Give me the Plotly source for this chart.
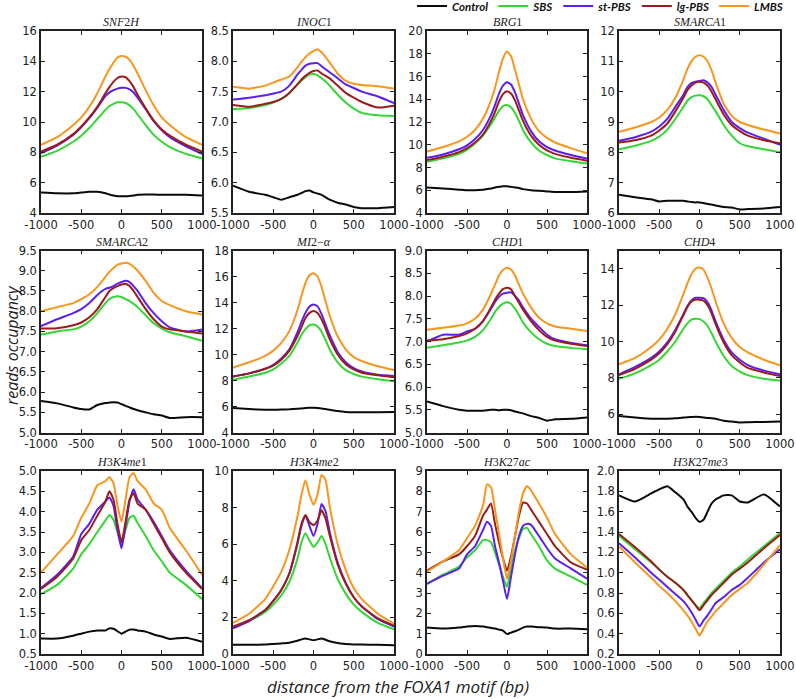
import plotly.graph_objects as go

W, H = 796, 699

# ---------------- data ----------------
X = [-1000, -800, -600, -500, -400, -300, -200, -150, -100, -50, 0, 50, 100, 150, 200, 300, 400, 500, 600, 800, 1000]
X_AC = [-1000, -800, -600, -500, -400, -300, -250, -200, -150, -100, -50, 0, 50, 100, 150, 200, 250, 300, 400, 500, 600, 800, 1000]

SERIES = ["Control", "SBS", "st-PBS", "lg-PBS", "LMBS"]
COLORS = ["#0a0a0a", "#33d633", "#5b1ff0", "#9b1c1c", "#f7961e"]

SNF2H = {
    "Control": [5.35, 5.30, 5.30, 5.35, 5.40, 5.40, 5.30, 5.22, 5.15, 5.10, 5.10, 5.10, 5.12, 5.15, 5.20, 5.22, 5.22, 5.20, 5.20, 5.20, 5.15],
    "SBS": [7.70, 8.10, 8.70, 9.10, 9.60, 10.20, 10.80, 11.05, 11.20, 11.30, 11.30, 11.25, 11.10, 10.85, 10.50, 9.80, 9.15, 8.70, 8.35, 7.90, 7.60],
    "st-PBS": [7.95, 8.45, 9.15, 9.65, 10.25, 10.95, 11.70, 11.95, 12.10, 12.20, 12.25, 12.25, 12.15, 11.95, 11.60, 10.85, 10.05, 9.45, 9.00, 8.40, 7.90],
    "lg-PBS": [8.05, 8.50, 9.20, 9.70, 10.30, 11.00, 11.90, 12.30, 12.65, 12.90, 13.00, 12.95, 12.70, 12.30, 11.80, 10.90, 10.10, 9.50, 9.10, 8.50, 8.05],
    "LMBS": [8.50, 9.00, 9.80, 10.30, 11.00, 11.90, 13.00, 13.50, 13.90, 14.25, 14.35, 14.30, 14.10, 13.70, 13.20, 12.10, 11.10, 10.30, 9.80, 9.00, 8.50],
}
INOC1 = {
    "Control": [5.95, 5.85, 5.80, 5.76, 5.72, 5.76, 5.80, 5.83, 5.86, 5.87, 5.84, 5.82, 5.80, 5.76, 5.72, 5.67, 5.64, 5.60, 5.58, 5.58, 5.60],
    "SBS": [7.21, 7.23, 7.28, 7.32, 7.38, 7.48, 7.62, 7.68, 7.74, 7.78, 7.79, 7.77, 7.72, 7.67, 7.60, 7.45, 7.32, 7.22, 7.15, 7.11, 7.10],
    "st-PBS": [7.37, 7.40, 7.44, 7.47, 7.50, 7.60, 7.78, 7.86, 7.93, 7.96, 7.97, 7.97, 7.92, 7.87, 7.82, 7.72, 7.62, 7.56, 7.50, 7.42, 7.31],
    "lg-PBS": [7.28, 7.25, 7.30, 7.33, 7.38, 7.48, 7.62, 7.70, 7.76, 7.81, 7.84, 7.85, 7.80, 7.76, 7.72, 7.60, 7.48, 7.40, 7.33, 7.24, 7.27],
    "LMBS": [7.58, 7.55, 7.60, 7.65, 7.70, 7.75, 7.90, 7.99, 8.07, 8.13, 8.17, 8.20, 8.15, 8.07, 7.98, 7.80, 7.68, 7.63, 7.61, 7.59, 7.55],
}
BRG1 = {
    "Control": [6.25, 6.15, 6.05, 6.00, 6.00, 6.05, 6.15, 6.25, 6.30, 6.35, 6.35, 6.30, 6.25, 6.20, 6.10, 6.00, 5.95, 5.90, 5.85, 5.85, 5.90],
    "SBS": [8.50, 8.80, 9.20, 9.55, 10.10, 10.80, 11.80, 12.40, 13.00, 13.40, 13.50, 13.30, 12.80, 12.10, 11.30, 10.20, 9.50, 9.10, 8.80, 8.55, 8.35],
    "st-PBS": [8.85, 9.15, 9.60, 9.95, 10.50, 11.30, 12.60, 13.50, 14.50, 15.20, 15.50, 15.30, 14.60, 13.60, 12.60, 11.20, 10.30, 9.80, 9.50, 9.10, 8.80],
    "lg-PBS": [8.65, 8.95, 9.35, 9.70, 10.20, 10.90, 12.10, 12.90, 13.80, 14.45, 14.70, 14.50, 13.90, 13.00, 12.10, 10.80, 10.00, 9.50, 9.20, 8.85, 8.60],
    "LMBS": [9.40, 9.80, 10.30, 10.70, 11.30, 12.30, 13.90, 15.00, 16.40, 17.60, 18.20, 17.80, 16.60, 15.30, 14.00, 12.30, 11.20, 10.60, 10.20, 9.70, 9.25],
}
SMARCA1 = {
    "Control": [6.60, 6.52, 6.45, 6.38, 6.40, 6.40, 6.40, 6.38, 6.36, 6.35, 6.35, 6.33, 6.30, 6.28, 6.25, 6.20, 6.18, 6.12, 6.13, 6.15, 6.20],
    "SBS": [8.10, 8.22, 8.38, 8.52, 8.75, 9.10, 9.50, 9.70, 9.82, 9.87, 9.88, 9.85, 9.75, 9.55, 9.35, 8.90, 8.55, 8.30, 8.20, 8.10, 8.00],
    "st-PBS": [8.38, 8.50, 8.68, 8.85, 9.10, 9.50, 9.90, 10.15, 10.28, 10.33, 10.35, 10.38, 10.30, 10.15, 9.90, 9.40, 9.00, 8.80, 8.65, 8.45, 8.25],
    "lg-PBS": [8.32, 8.40, 8.55, 8.72, 8.95, 9.35, 9.80, 10.05, 10.20, 10.30, 10.33, 10.30, 10.20, 10.00, 9.75, 9.25, 8.90, 8.70, 8.55, 8.40, 8.30],
    "LMBS": [8.68, 8.82, 9.00, 9.15, 9.40, 9.80, 10.40, 10.75, 11.00, 11.15, 11.20, 11.15, 11.00, 10.70, 10.30, 9.60, 9.20, 9.00, 8.90, 8.75, 8.62],
}
SMARCA2 = {
    "Control": [5.78, 5.72, 5.62, 5.58, 5.57, 5.68, 5.73, 5.74, 5.75, 5.74, 5.70, 5.66, 5.62, 5.58, 5.55, 5.50, 5.45, 5.42, 5.36, 5.38, 5.38],
    "SBS": [7.42, 7.50, 7.55, 7.62, 7.75, 7.95, 8.20, 8.30, 8.35, 8.37, 8.35, 8.30, 8.25, 8.18, 8.10, 7.90, 7.70, 7.57, 7.48, 7.38, 7.27],
    "st-PBS": [7.63, 7.80, 7.95, 8.05, 8.20, 8.40, 8.55, 8.58, 8.62, 8.68, 8.72, 8.75, 8.72, 8.62, 8.50, 8.20, 7.95, 7.75, 7.60, 7.50, 7.55],
    "lg-PBS": [7.57, 7.58, 7.65, 7.72, 7.85, 8.05, 8.35, 8.50, 8.57, 8.62, 8.66, 8.68, 8.62, 8.50, 8.35, 8.05, 7.80, 7.62, 7.55, 7.50, 7.45],
    "LMBS": [8.00, 8.10, 8.20, 8.30, 8.42, 8.60, 8.85, 8.97, 9.07, 9.15, 9.18, 9.20, 9.17, 9.10, 9.00, 8.75, 8.45, 8.25, 8.15, 8.00, 7.92],
}
MI2A = {
    "Control": [5.88, 5.80, 5.75, 5.75, 5.76, 5.78, 5.82, 5.85, 5.88, 5.90, 5.90, 5.88, 5.85, 5.80, 5.75, 5.65, 5.58, 5.55, 5.55, 5.55, 5.57],
    "SBS": [8.05, 8.30, 8.60, 8.85, 9.30, 9.90, 10.90, 11.50, 11.95, 12.25, 12.30, 12.15, 11.75, 11.10, 10.40, 9.40, 8.80, 8.50, 8.30, 8.10, 7.95],
    "st-PBS": [8.30, 8.55, 8.90, 9.20, 9.70, 10.40, 11.70, 12.50, 13.20, 13.70, 13.85, 13.70, 13.10, 12.30, 11.50, 10.20, 9.40, 8.95, 8.70, 8.45, 8.35],
    "lg-PBS": [8.30, 8.55, 8.90, 9.15, 9.60, 10.30, 11.40, 12.10, 12.80, 13.20, 13.35, 13.20, 12.70, 12.00, 11.20, 10.00, 9.25, 8.85, 8.60, 8.40, 8.25],
    "LMBS": [9.00, 9.40, 9.90, 10.30, 10.90, 11.80, 13.40, 14.50, 15.50, 16.10, 16.25, 16.00, 15.20, 14.10, 13.00, 11.40, 10.40, 9.80, 9.50, 9.10, 8.80],
}
CHD1 = {
    "Control": [5.68, 5.58, 5.50, 5.48, 5.48, 5.48, 5.50, 5.50, 5.49, 5.50, 5.50, 5.49, 5.46, 5.44, 5.42, 5.36, 5.32, 5.26, 5.29, 5.30, 5.33],
    "SBS": [6.86, 6.92, 6.98, 7.02, 7.10, 7.25, 7.50, 7.65, 7.76, 7.83, 7.86, 7.83, 7.72, 7.58, 7.42, 7.20, 7.05, 6.95, 6.90, 6.86, 6.83],
    "st-PBS": [7.00, 7.15, 7.15, 7.22, 7.28, 7.45, 7.72, 7.87, 7.98, 8.05, 8.07, 8.08, 8.00, 7.90, 7.75, 7.50, 7.32, 7.15, 7.05, 6.97, 6.92],
    "lg-PBS": [7.02, 7.05, 7.12, 7.18, 7.28, 7.45, 7.75, 7.92, 8.05, 8.15, 8.18, 8.15, 8.00, 7.85, 7.70, 7.45, 7.25, 7.10, 7.02, 6.95, 6.90],
    "LMBS": [7.26, 7.30, 7.35, 7.40, 7.50, 7.70, 8.05, 8.25, 8.45, 8.57, 8.62, 8.58, 8.45, 8.25, 8.05, 7.75, 7.52, 7.40, 7.33, 7.28, 7.23],
}
CHD4 = {
    "Control": [5.90, 5.82, 5.76, 5.75, 5.76, 5.78, 5.82, 5.84, 5.85, 5.86, 5.85, 5.83, 5.80, 5.78, 5.75, 5.65, 5.60, 5.55, 5.56, 5.58, 5.60],
    "SBS": [7.95, 8.25, 8.70, 9.00, 9.45, 10.00, 10.70, 11.00, 11.20, 11.25, 11.23, 11.10, 10.85, 10.45, 10.00, 9.20, 8.65, 8.35, 8.15, 7.95, 7.85],
    "st-PBS": [8.20, 8.60, 9.10, 9.45, 9.95, 10.65, 11.50, 11.95, 12.25, 12.40, 12.40, 12.38, 12.15, 11.70, 11.10, 10.10, 9.40, 9.00, 8.70, 8.40, 8.20],
    "lg-PBS": [8.15, 8.50, 9.00, 9.35, 9.85, 10.55, 11.45, 11.90, 12.20, 12.30, 12.30, 12.25, 12.00, 11.55, 10.95, 9.95, 9.25, 8.85, 8.55, 8.30, 8.10],
    "LMBS": [8.74, 9.10, 9.70, 10.10, 10.70, 11.50, 12.60, 13.20, 13.70, 14.00, 14.07, 13.95, 13.50, 12.90, 12.20, 11.00, 10.20, 9.70, 9.40, 9.00, 8.69],
}
H3K4ME1 = {
    "Control": [0.88, 0.88, 0.95, 1.00, 1.05, 1.08, 1.08, 1.13, 1.12, 1.06, 1.00, 1.05, 1.10, 1.10, 1.08, 1.05, 0.98, 0.93, 0.87, 0.90, 0.80],
    "SBS": [1.97, 2.20, 2.60, 2.95, 3.20, 3.50, 3.78, 3.92, 3.80, 3.50, 3.20, 3.55, 3.85, 3.90, 3.72, 3.40, 3.05, 2.78, 2.50, 2.20, 1.85],
    "st-PBS": [2.12, 2.45, 2.90, 3.45, 3.70, 4.05, 4.25, 4.35, 4.15, 3.55, 3.10, 3.65, 4.25, 4.55, 4.30, 4.05, 3.75, 3.40, 3.05, 2.55, 2.12],
    "lg-PBS": [2.10, 2.40, 2.85, 3.30, 3.55, 3.90, 4.25, 4.50, 4.30, 3.70, 3.25, 3.75, 4.30, 4.45, 4.20, 4.05, 3.70, 3.35, 3.00, 2.50, 2.10],
    "LMBS": [2.50, 2.95, 3.40, 3.85, 4.20, 4.65, 4.75, 4.85, 4.70, 4.15, 3.75, 4.30, 4.85, 4.95, 4.75, 4.55, 4.20, 4.05, 3.60, 3.05, 2.45],
}
H3K4ME2 = {
    "Control": [0.50, 0.50, 0.52, 0.55, 0.58, 0.62, 0.72, 0.80, 0.85, 0.80, 0.75, 0.80, 0.85, 0.78, 0.70, 0.60, 0.55, 0.52, 0.52, 0.50, 0.48],
    "SBS": [1.45, 1.80, 2.30, 2.70, 3.20, 3.95, 5.20, 6.10, 6.60, 6.20, 5.85, 6.10, 6.45, 6.00, 5.30, 4.10, 3.30, 2.70, 2.30, 1.70, 1.35],
    "st-PBS": [1.40, 1.80, 2.40, 2.90, 3.50, 4.40, 6.00, 7.00, 7.55, 7.00, 6.45, 7.10, 8.20, 7.80, 6.70, 5.00, 3.90, 3.10, 2.60, 1.90, 1.50],
    "lg-PBS": [1.50, 1.85, 2.40, 2.90, 3.50, 4.40, 6.10, 7.10, 7.60, 7.20, 7.05, 7.30, 7.85, 7.40, 6.50, 4.90, 3.85, 3.10, 2.60, 1.95, 1.55],
    "LMBS": [1.70, 2.20, 3.00, 3.70, 4.50, 5.70, 7.50, 8.70, 9.50, 8.70, 8.15, 8.70, 9.80, 9.50, 8.10, 6.00, 4.60, 3.60, 3.00, 2.20, 1.65],
}
H3K27AC = {
    "Control": [1.30, 1.25, 1.30, 1.35, 1.38, 1.35, 1.32, 1.28, 1.25, 1.20, 1.15, 0.98, 1.05, 1.12, 1.20, 1.30, 1.35, 1.35, 1.32, 1.30, 1.25, 1.25, 1.22],
    "SBS": [3.45, 3.90, 4.30, 4.75, 5.10, 5.60, 5.60, 5.50, 5.00, 4.40, 3.80, 3.30, 4.30, 5.10, 5.70, 6.15, 6.20, 5.90, 5.30, 4.60, 4.20, 3.80, 3.40],
    "st-PBS": [3.45, 3.85, 4.20, 4.90, 5.30, 6.10, 6.50, 6.30, 5.30, 4.50, 3.60, 2.70, 3.80, 4.90, 5.80, 6.30, 6.40, 6.35, 5.80, 5.20, 4.70, 4.20, 3.70],
    "lg-PBS": [4.10, 4.55, 4.90, 5.30, 5.80, 6.80, 7.10, 7.40, 6.40, 5.50, 4.70, 4.10, 4.80, 5.80, 6.80, 7.45, 7.40, 7.10, 6.50, 5.90, 5.30, 4.50, 4.15],
    "LMBS": [4.05, 4.55, 5.10, 5.70, 6.30, 7.30, 8.35, 8.20, 7.10, 5.90, 4.70, 3.70, 4.60, 5.80, 7.00, 7.90, 8.25, 8.05, 7.40, 6.70, 5.90, 4.90, 4.25],
}
H3K27ME3 = {
    "Control": [1.76, 1.70, 1.78, 1.82, 1.85, 1.79, 1.72, 1.65, 1.60, 1.54, 1.50, 1.52, 1.60, 1.68, 1.72, 1.76, 1.76, 1.70, 1.69, 1.77, 1.65],
    "SBS": [1.36, 1.23, 1.10, 1.03, 0.96, 0.90, 0.83, 0.78, 0.73, 0.68, 0.65, 0.70, 0.75, 0.80, 0.84, 0.92, 1.00, 1.06, 1.13, 1.26, 1.39],
    "st-PBS": [1.29, 1.15, 1.00, 0.93, 0.86, 0.79, 0.72, 0.67, 0.61, 0.54, 0.47, 0.53, 0.58, 0.64, 0.70, 0.76, 0.83, 0.88, 0.95, 1.10, 1.23],
    "lg-PBS": [1.38, 1.25, 1.11, 1.03, 0.96, 0.90, 0.83, 0.78, 0.73, 0.68, 0.63, 0.68, 0.73, 0.78, 0.82, 0.90, 0.98, 1.04, 1.10, 1.24, 1.37],
    "LMBS": [1.26, 1.10, 0.95, 0.87, 0.80, 0.72, 0.63, 0.58, 0.52, 0.45, 0.38, 0.45, 0.52, 0.57, 0.62, 0.70, 0.78, 0.84, 0.90, 1.08, 1.27],
}

TITLES = ["<i>SNF</i>2<i>H</i>", "<i>INOC</i>1", "<i>BRG</i>1", "<i>SMARCA</i>1",
          "<i>SMARCA</i>2", "<i>MI</i>2\u2212<i>\u03b1</i>", "<i>CHD</i>1", "<i>CHD</i>4",
          "<i>H</i>3<i>K</i>4<i>me</i>1", "<i>H</i>3<i>K</i>4<i>me</i>2", "<i>H</i>3<i>K</i>27<i>ac</i>", "<i>H</i>3<i>K</i>27<i>me</i>3"]

X_TICKS = [-1000, -500, 0, 500, 1000]
X_TICKTEXT = ["-1000", "-500", "0", "500", "1000"]

Y_RANGES = [[4, 16], [5.5, 8.5], [4, 20], [6, 12],
            [5.0, 9.5], [4, 18], [5.0, 9.0], [5, 15],
            [0.5, 5.0], [0, 10], [0, 9], [0.2, 2.0]]
Y_TICKS = [[4, 6, 8, 10, 12, 14, 16],
           [5.5, 6.0, 6.5, 7.0, 7.5, 8.0, 8.5],
           [4, 6, 8, 10, 12, 14, 16, 18, 20],
           [6, 7, 8, 9, 10, 11, 12],
           [5.0, 5.5, 6.0, 6.5, 7.0, 7.5, 8.0, 8.5, 9.0, 9.5],
           [4, 6, 8, 10, 12, 14, 16, 18],
           [5.0, 5.5, 6.0, 6.5, 7.0, 7.5, 8.0, 8.5, 9.0],
           [6, 8, 10, 12, 14],
           [0.5, 1.0, 1.5, 2.0, 2.5, 3.0, 3.5, 4.0, 4.5, 5.0],
           [0, 2, 4, 6, 8, 10],
           [0, 1, 2, 3, 4, 5, 6, 7, 8, 9],
           [0.2, 0.4, 0.6, 0.8, 1.0, 1.2, 1.4, 1.6, 1.8, 2.0]]
Y_FMT = ["d", ".1f", "d", "d", ".1f", "d", ".1f", "d", ".1f", "d", "d", ".1f"]

PANELS = [(SNF2H, X), (INOC1, X), (BRG1, X), (SMARCA1, X),
          (SMARCA2, X), (MI2A, X), (CHD1, X), (CHD4, X),
          (H3K4ME1, X), (H3K4ME2, X), (H3K27AC, X_AC), (H3K27ME3, X)]

# ---------------- layout (pixel boxes) ----------------
COLS_PX = [(41, 202), (233, 394), (427, 587), (619, 780)]
ROWS_PX = [(31, 213), (250.5, 432.5), (471, 654)]

fig = go.Figure()
layout = {}
annotations = []
for i, ((data, xs), title) in enumerate(zip(PANELS, TITLES)):
    r, c = divmod(i, 4)
    n = "" if i == 0 else str(i + 1)
    x0, x1 = COLS_PX[c]
    t, b = ROWS_PX[r]
    for s, col in zip(SERIES, COLORS):
        fig.add_trace(go.Scatter(
            x=xs, y=data[s], mode="lines", name=s,
            line=dict(color=col, width=2, shape="spline", smoothing=0.5),
            showlegend=(i == 0), xaxis="x" + n, yaxis="y" + n,
        ))
    layout["xaxis" + n] = dict(
        domain=[x0 / W, x1 / W], anchor="y" + n, range=[-1000, 1000],
        tickvals=X_TICKS, ticktext=X_TICKTEXT, ticks="inside", ticklen=4,
        tickwidth=1, tickcolor="#222", showline=True, linecolor="#222",
        linewidth=1.5, mirror="ticks", showgrid=False, zeroline=False,
        tickfont=dict(family="DejaVu Sans", size=11.5, color="#222"),
    )
    layout["yaxis" + n] = dict(
        domain=[1 - b / H, 1 - t / H], anchor="x" + n, range=Y_RANGES[i],
        tickvals=Y_TICKS[i], tickformat=Y_FMT[i], ticks="inside", ticklen=4,
        tickwidth=1, tickcolor="#222", showline=True, linecolor="#222",
        linewidth=1.5, mirror="ticks", showgrid=False, zeroline=False,
        tickfont=dict(family="DejaVu Sans", size=11.5, color="#222"),
    )
    annotations.append(dict(
        text=title, x=(x0 + x1) / 2 / W, y=1 - (t - 9) / H, xref="paper",
        yref="paper", xanchor="center", yanchor="middle", showarrow=False,
        font=dict(family="Liberation Serif", size=12, color="#222"),
    ))

annotations.append(dict(
    text="reads occupancy", x=12 / W, y=1 - 345 / H, xref="paper", yref="paper",
    xanchor="center", yanchor="middle", textangle=-90, showarrow=False,
    font=dict(family="Open Sans", size=16, color="#222", style="italic"),
))
annotations.append(dict(
    text="distance from the FOXA1 motif (bp)", x=398 / W, y=1 - 686 / H,
    xref="paper", yref="paper", xanchor="center", yanchor="middle",
    showarrow=False,
    font=dict(family="Open Sans", size=17, color="#222", style="italic"),
))

fig.update_layout(
    **layout,
    annotations=annotations,
    width=W, height=H,
    margin=dict(l=0, r=0, t=0, b=0, autoexpand=False),
    paper_bgcolor="white", plot_bgcolor="white",
    showlegend=True,
    legend=dict(
        orientation="h", x=0.99, xanchor="right", y=1.012, yanchor="top",
        font=dict(family="Lato", size=11.5, color="#111", weight="bold", style="italic"),
        bgcolor="rgba(0,0,0,0)", itemwidth=30, tracegroupgap=0,
    ),
)

fig.write_html("out.html", config={"displayModeBar": False},
               post_script="document.body.style.margin='0px';")
